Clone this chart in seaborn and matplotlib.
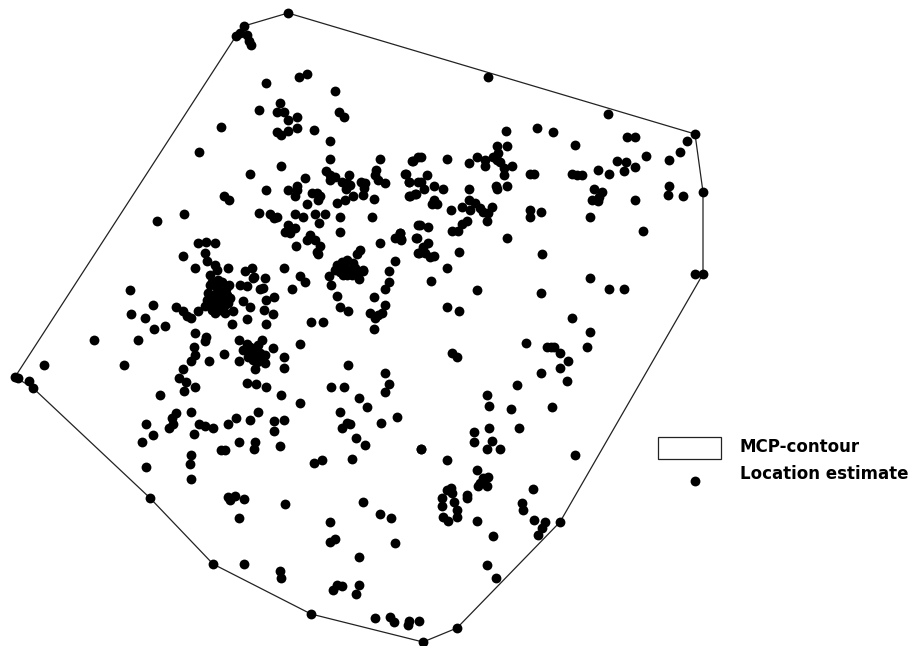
import pandas as pd
import matplotlib
matplotlib.use('Agg')
import matplotlib.pyplot as plt
from matplotlib.patches import Rectangle
import seaborn as sns

# MCP contour vertices
hull_x = [288, 695, 703, 703, 560, 457, 423, 311, 213, 150, 33, 15, 236, 244, 288]
hull_y = [13, 134, 192, 274, 522, 628, 642, 614, 564, 498, 388, 377, 36, 26, 13]

# Location estimates, read off the picture by region
edge_pts = [(288, 13), (244, 26), (236, 36), (240, 33), (247, 35), (251, 45), (249, 41), (488, 77), (608, 114),
            (15, 377), (18, 378), (29, 381), (33, 388), (44, 365)]

upper_left = [(266, 83), (299, 77), (307, 74), (335, 91), (259, 110), (280, 103), (277, 112), (284, 112),
              (288, 120), (297, 117), (297, 128), (288, 131), (281, 135), (277, 132), (339, 112), (344, 117),
              (314, 130), (330, 141), (221, 127), (199, 152), (330, 159), (380, 159), (412, 161), (418, 157),
              (281, 166), (250, 174), (305, 178), (326, 171), (330, 175), (330, 180), (335, 177), (349, 175),
              (342, 182), (347, 183), (350, 185), (346, 189), (361, 182), (365, 183), (364, 188), (363, 195),
              (376, 170), (375, 175), (378, 180), (385, 183), (405, 174), (409, 182), (418, 182), (266, 190),
              (288, 190), (297, 186), (297, 190), (295, 196), (312, 193), (317, 193), (320, 196), (318, 200),
              (307, 204), (337, 203), (345, 200), (353, 196), (374, 199), (409, 196), (415, 194), (224, 196),
              (229, 200), (184, 214), (157, 221), (259, 213), (270, 214), (274, 218), (277, 217), (295, 214),
              (303, 217), (315, 214), (325, 214), (319, 223), (340, 217), (372, 217), (418, 225), (288, 225),
              (295, 228), (285, 232), (290, 233), (340, 232), (310, 235), (307, 240), (315, 240), (320, 246),
              (296, 246), (317, 252), (318, 254), (380, 243), (400, 233), (395, 238), (401, 240), (416, 238),
              (198, 243), (206, 242), (215, 243), (183, 256), (205, 253), (207, 261), (195, 268), (215, 265),
              (217, 270), (210, 275), (228, 268), (245, 271), (252, 268), (254, 277), (265, 278), (284, 268),
              (300, 276), (329, 276), (337, 265), (340, 272), (347, 260), (353, 263), (350, 270), (360, 250),
              (357, 254), (363, 270), (395, 261), (389, 271), (418, 253), (342, 262), (345, 268), (355, 268),
              (335, 270), (347, 275), (352, 275), (358, 272)]

upper_right = [(506, 131), (537, 128), (553, 132), (575, 145), (627, 137), (635, 137), (695, 134), (687, 141),
               (680, 152), (669, 160), (646, 156), (635, 167), (617, 161), (626, 162), (624, 171), (609, 174),
               (598, 170), (703, 192), (669, 186), (668, 195), (683, 196), (635, 200), (413, 161), (421, 157),
               (447, 159), (469, 163), (477, 157), (485, 160), (485, 166), (497, 146), (507, 146), (498, 153),
               (493, 157), (497, 160), (500, 162), (512, 166), (504, 168), (504, 175), (530, 174), (534, 174),
               (572, 174), (577, 175), (582, 175), (406, 174), (427, 175), (409, 182), (421, 182), (424, 189),
               (434, 186), (443, 189), (410, 196), (416, 194), (434, 200), (432, 204), (437, 204), (469, 189),
               (496, 186), (497, 189), (507, 186), (594, 189), (602, 192), (599, 197), (592, 200), (598, 201),
               (451, 210), (462, 207), (469, 200), (475, 203), (470, 210), (480, 208), (483, 212), (492, 207),
               (488, 213), (487, 221), (467, 221), (462, 224), (452, 231), (458, 231), (530, 210), (530, 217),
               (541, 212), (590, 217), (643, 231), (507, 238), (420, 225), (428, 227), (400, 233), (401, 239),
               (417, 238), (428, 243), (423, 247), (419, 253), (425, 253), (430, 257), (434, 256), (459, 252),
               (542, 254), (447, 268), (431, 281), (477, 290), (541, 293), (590, 278), (609, 289), (624, 289),
               (695, 274), (703, 274), (447, 307), (459, 311), (572, 318)]

mid_left = [(343, 275), (359, 279), (363, 271), (389, 282), (385, 289), (374, 297), (385, 305), (370, 313),
            (375, 318), (382, 313), (378, 315), (374, 329), (323, 322), (311, 322), (253, 278), (305, 282),
            (292, 289), (331, 285), (337, 296), (340, 307), (348, 311), (130, 290), (153, 305), (131, 314),
            (145, 318), (165, 326), (154, 329), (138, 340), (94, 340), (124, 365), (176, 307), (183, 311),
            (187, 316), (191, 318), (198, 311), (210, 285), (222, 282), (229, 285), (240, 285), (247, 286),
            (260, 289), (263, 288), (207, 300), (212, 295), (217, 288), (222, 292), (227, 295), (210, 303),
            (215, 313), (225, 313), (233, 311), (228, 303), (220, 310), (213, 302), (222, 300), (232, 324),
            (247, 319), (243, 301), (250, 307), (266, 300), (274, 297), (264, 310), (273, 314), (266, 324),
            (195, 333), (206, 337), (205, 341), (194, 347), (195, 355), (191, 361), (209, 361), (224, 354),
            (183, 369), (179, 378), (186, 382), (195, 387), (184, 391), (160, 395), (239, 340), (247, 344),
            (243, 350), (262, 340), (258, 345), (253, 350), (260, 353), (255, 357), (250, 353), (265, 355),
            (253, 360), (239, 361), (265, 363), (255, 369), (273, 348), (284, 357), (284, 368), (300, 344),
            (247, 383), (256, 384), (266, 387), (281, 395), (300, 403), (348, 365), (385, 373), (389, 384),
            (385, 392), (331, 387), (344, 387), (359, 398), (367, 407), (340, 412), (212, 282), (217, 296),
            (208, 293), (216, 305), (224, 306), (230, 298), (218, 280), (226, 289), (212, 310), (205, 306),
            (250, 347), (257, 350), (248, 357), (257, 362), (262, 358)]

lower_left = [(397, 417), (381, 423), (421, 449), (176, 413), (172, 418), (173, 424), (169, 428), (191, 412),
              (146, 424), (153, 435), (142, 442), (199, 424), (205, 426), (213, 428), (194, 434), (228, 424),
              (236, 418), (250, 420), (258, 412), (274, 421), (284, 420), (274, 431), (239, 442), (255, 442),
              (254, 449), (280, 446), (221, 450), (225, 450), (191, 455), (190, 464), (146, 467), (191, 479),
              (150, 498), (342, 428), (347, 423), (350, 424), (356, 438), (365, 445), (352, 459), (314, 463),
              (322, 460), (228, 497), (235, 496), (230, 500), (244, 499), (285, 504), (239, 518), (363, 502),
              (380, 514), (391, 518), (330, 522), (335, 539), (330, 542), (395, 543), (359, 557), (213, 564),
              (244, 564), (280, 571), (281, 578), (337, 585), (342, 586), (333, 590), (359, 585), (356, 594),
              (311, 614), (375, 618), (390, 617), (394, 622), (409, 621), (408, 625), (419, 621)]

lower_right = [(590, 332), (587, 347), (526, 343), (547, 347), (551, 347), (554, 347), (560, 353), (568, 361),
               (560, 368), (541, 373), (567, 381), (517, 385), (452, 353), (457, 357), (487, 395), (489, 406),
               (511, 409), (552, 407), (489, 428), (519, 428), (474, 432), (474, 442), (492, 441), (487, 449),
               (500, 449), (421, 449), (447, 460), (575, 455), (477, 470), (488, 477), (483, 478), (480, 483),
               (487, 486), (478, 486), (533, 489), (447, 490), (451, 488), (452, 493), (467, 495), (467, 498),
               (442, 498), (454, 502), (442, 506), (457, 510), (457, 517), (443, 517), (448, 521), (477, 521),
               (522, 503), (523, 510), (534, 520), (545, 522), (542, 528), (538, 535), (560, 522), (493, 536),
               (487, 565), (496, 578), (457, 628), (423, 642)]

legend_labels = ['MCP-contour', 'Location estimate']

pts = pd.DataFrame(edge_pts + upper_left + upper_right + mid_left + lower_left + lower_right, columns=['x', 'y'])
hull = pd.DataFrame({'x': hull_x, 'y': hull_y, 'order': range(len(hull_x))})

sns.set_style('white')
fig, ax = plt.subplots(figsize=(9.12, 6.46), dpi=100)
ax.set_position([0, 0, 1, 1])

sns.lineplot(data=hull, x='x', y='y', sort=False, estimator=None, color='#222222', linewidth=0.9, ax=ax)
sns.scatterplot(data=pts, x='x', y='y', color='black', s=50, linewidth=0, ax=ax, zorder=3)

ax.set_xlim(0, 912)
ax.set_ylim(646, 0)
ax.axis('off')

# Legend by hand, the dot sits under the box
ax.add_patch(Rectangle((658, 437), 63, 22, fill=False, edgecolor='#222222', linewidth=0.9))
ax.scatter([695], [481], color='black', s=50, linewidth=0)
ax.text(740, 447, legend_labels[0], fontsize=12, fontweight='bold', family='DejaVu Sans', color='black', va='center')
ax.text(740, 474, legend_labels[1], fontsize=12, fontweight='bold', family='DejaVu Sans', color='black', va='center')

fig.savefig('out.png', dpi=100, facecolor='white')
